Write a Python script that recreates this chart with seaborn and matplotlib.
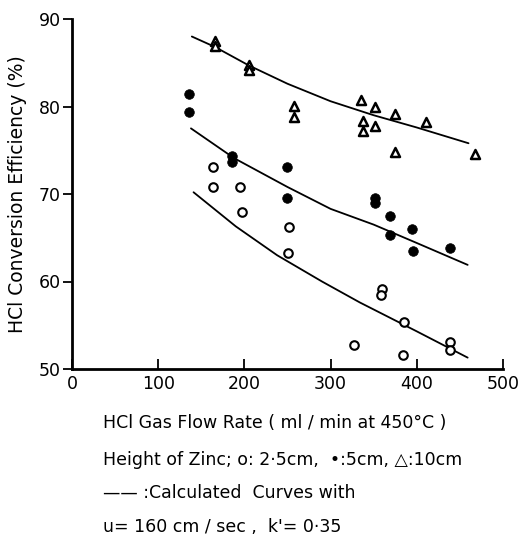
import numpy as np
import matplotlib.pyplot as plt
import seaborn as sns
import pandas as pd

# open circles: 2.5 cm zinc
open_x = [164, 163, 195, 197, 252, 250, 360, 358, 385, 327, 384, 439, 439]
open_y = [73.1, 70.8, 70.8, 68.0, 66.2, 63.3, 59.1, 58.5, 55.4, 52.8, 51.6, 53.1, 52.2]
# filled circles: 5 cm zinc
fill_x = [136, 136, 186, 186, 249, 249, 351, 351, 369, 369, 395, 396, 439]
fill_y = [81.4, 79.4, 74.4, 73.7, 73.1, 69.5, 69.6, 69.0, 67.5, 65.3, 66.0, 63.5, 63.8]
# triangles: 10 cm zinc
tri_x = [166, 166, 205, 205, 257, 257, 335, 338, 338, 352, 352, 375, 375, 411, 468]
tri_y = [87.5, 86.9, 84.8, 84.2, 80.1, 78.8, 80.7, 78.4, 77.2, 79.9, 77.8, 79.1, 74.8, 78.2, 74.6]

# calculated curves
c_open_x = [141, 190, 238, 290, 334, 400, 459]
c_open_y = [70.2, 66.3, 63.0, 60.0, 57.6, 54.3, 51.3]
c_fill_x = [138, 188, 250, 300, 350, 400, 459]
c_fill_y = [77.5, 74.1, 70.8, 68.3, 66.5, 64.4, 61.9]
c_tri_x = [139, 166, 205, 250, 300, 350, 400, 460]
c_tri_y = [88.0, 86.8, 84.7, 82.6, 80.6, 79.0, 77.6, 75.8]

sns.set_style("ticks")
plt.rcParams['font.family'] = ['DejaVu Sans']
plt.rcParams['text.color'] = 'black'
plt.rcParams['xtick.color'] = 'black'
plt.rcParams['ytick.color'] = 'black'
plt.rcParams['axes.edgecolor'] = 'black'

fig = plt.figure(figsize=(5.26, 5.36), dpi=100)
ax = fig.add_axes([72/526, 1-369/536, 431/526, 350/536])

for cx, cy in [(c_open_x, c_open_y), (c_fill_x, c_fill_y), (c_tri_x, c_tri_y)]:
    sns.lineplot(x=cx, y=cy, ax=ax, color="black", lw=1.3, sort=False)

sns.scatterplot(x=open_x, y=open_y, ax=ax, marker="o", s=38, facecolor="white",
                edgecolor="black", linewidth=1.5, zorder=3)
sns.scatterplot(x=fill_x, y=fill_y, ax=ax, marker="o", s=48, color="black",
                edgecolor="black", linewidth=0.5, zorder=3)
sns.scatterplot(x=tri_x, y=tri_y, ax=ax, marker="^", s=42, facecolor="white",
                edgecolor="black", linewidth=1.8, zorder=3)

ax.set_xlim(0, 500)
ax.set_ylim(50, 90)
ax.set_xticks([0, 100, 200, 300, 400, 500])
ax.set_yticks([50, 60, 70, 80, 90])
ax.spines['top'].set_visible(False)
ax.spines['right'].set_visible(False)
ax.spines['left'].set_linewidth(2.0)
ax.spines['bottom'].set_linewidth(2.0)
ax.tick_params(axis='x', direction='in', length=7, width=1.3, pad=4, labelsize=12.5)
ax.tick_params(axis='y', direction='out', length=6.5, width=1.3, pad=1.5, labelsize=12.5)
ax.set_xlabel("")
ax.set_ylabel("")

fig.text(18/526, 1-194/536, "HCl Conversion Efficiency (%)", rotation=90,
         ha='center', va='center', fontsize=13.5)
lines = ["HCl Gas Flow Rate ( ml / min at 450°C )",
         "Height of Zinc; o: 2·5cm,  •:5cm, △:10cm",
         "—— :Calculated  Curves with",
         "u= 160 cm / sec ,  k'= 0·35"]
ys = [423, 460, 493, 527]
for t, yy in zip(lines, ys):
    fig.text(103/526, 1-yy/536, t, ha='left', va='center', fontsize=12.5)

fig.savefig("out.png", dpi=100)
